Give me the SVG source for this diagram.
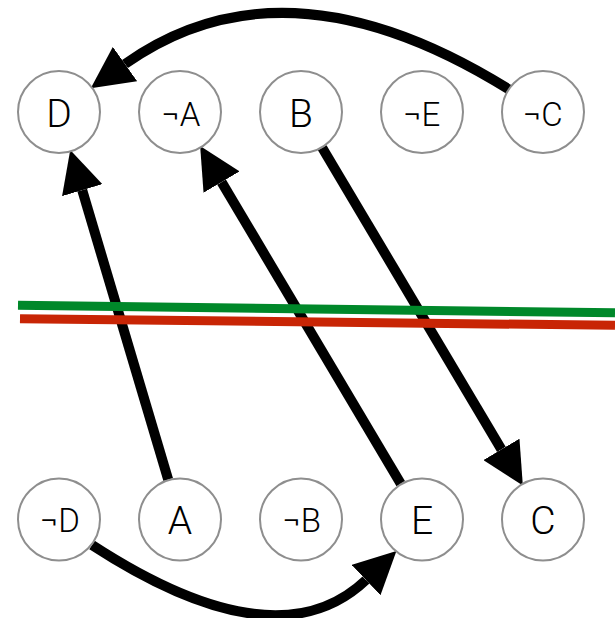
<svg xmlns="http://www.w3.org/2000/svg" width="615" height="618" viewBox="0 0 615 618">
<defs>
<style>
.node circle{fill:#fff;stroke:#8e8e8e;stroke-width:2}
.node text{font-family:Roboto,"Liberation Sans",sans-serif;font-weight:300;fill:#000;text-anchor:middle}
.big{font-size:39px}
.neg{font-size:33px}
.edge{fill:none;stroke:#000;stroke-width:10;marker-end:url(#ah)}
</style>
<marker id="ah" markerUnits="userSpaceOnUse" markerWidth="42" markerHeight="42" refX="0" refY="20" orient="auto" viewBox="0 0 40 40">
<path d="M0,0 L40,20 L0,40 Z" fill="#000"/>
</marker>
</defs>
<rect width="615" height="618" fill="#fff"/>
<g id="connectors">
<path class="edge" d="M510,90 Q285.7,-50 125,64"/>
<path class="edge" d="M168.2,479.7 L82.2,190.2"/>
<path class="edge" d="M400.8,483.8 L221.6,182.1"/>
<path class="edge" d="M322.2,147.7 L501.4,449.4"/>
<path class="edge" d="M92,545 Q276.6,665 366,580"/>
</g>
<g id="cut-lines">
<line x1="18" y1="305.3" x2="615" y2="312.8" stroke="#00882a" stroke-width="9"/>
<line x1="20" y1="318.7" x2="615" y2="325.3" stroke="#c82505" stroke-width="9"/>
</g>
<g id="n-D" class="node"><circle cx="59" cy="112" r="41"/><text class="big" x="59" y="126.5">D</text></g>
<g id="n-notA" class="node"><circle cx="180" cy="112" r="41"/><text class="neg" x="181" y="125.5">¬A</text></g>
<g id="n-B" class="node"><circle cx="301" cy="112" r="41"/><text class="big" x="301" y="126.5">B</text></g>
<g id="n-notE" class="node"><circle cx="422" cy="112" r="41"/><text class="neg" x="422" y="125.5">¬E</text></g>
<g id="n-notC" class="node"><circle cx="543" cy="112" r="41"/><text class="neg" x="543" y="125.5">¬C</text></g>
<g id="n-notD" class="node"><circle cx="59" cy="519.5" r="41"/><text class="neg" x="60" y="532">¬D</text></g>
<g id="n-A" class="node"><circle cx="180" cy="519.5" r="41"/><text class="big" x="180" y="534">A</text></g>
<g id="n-notB" class="node"><circle cx="301" cy="519.5" r="41"/><text class="neg" x="302" y="532">¬B</text></g>
<g id="n-E" class="node"><circle cx="422" cy="519.5" r="41"/><text class="big" x="422" y="534">E</text></g>
<g id="n-C" class="node"><circle cx="543" cy="519.5" r="41"/><text class="big" x="543" y="534">C</text></g>
</svg>
